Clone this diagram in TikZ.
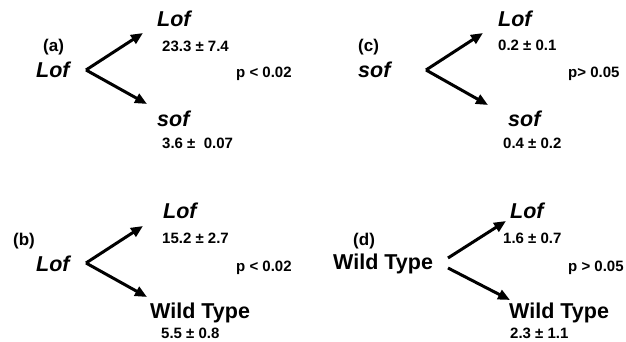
\documentclass[tikz,border=0pt]{standalone}
\usepackage{fontspec}
\setmainfont{Liberation Sans}
\usetikzlibrary{arrows.meta}
\tikzset{
  lbl/.style={anchor=base west, inner sep=0pt, font=\bfseries\fontsize{21.5}{21.5}\selectfont},
  glbl/.style={lbl, font=\bfseries\itshape\fontsize{21.5}{21.5}\selectfont},
  tag/.style={anchor=base west, inner sep=0pt, font=\bfseries\fontsize{17}{17}\selectfont},
  num/.style={anchor=base west, inner sep=0pt, font=\bfseries\fontsize{15}{15}\selectfont},
  cross/.style={line width=3pt, -{Triangle[length=12pt,width=10pt]}}
}
\begin{document}
\begin{tikzpicture}[x=1pt,y=-1pt]
\useasboundingbox (0,0) rectangle (626,342);

% (a) Lof x Lof / sof
\node[tag]  (ta)  at (43,52)   {(a)};
\node[glbl] (a0)  at (36,78)   {Lof};
\node[glbl] (a1)  at (157,27)  {Lof};
\node[num]  (a1n) at (162,52)  {23.3 \char"00B1{} 7.4};
\node[num]  (ap)  at (236,78)  {p < 0.02};
\node[glbl] (a2)  at (157,127) {sof};
\node[num]  (a2n) at (162,148) {3.6 \char"00B1{}\ \ 0.07};
\coordinate (as) at (86,70);
\coordinate (au) at (143,33);
\coordinate (ad) at (147,104);
\draw[cross] (as) -- (au);
\draw[cross] (as) -- (ad);

% (c) sof x Lof / sof
\node[tag]  (tc)  at (358,52)  {(c)};
\node[glbl] (c0)  at (358,78)  {sof};
\node[glbl] (c1)  at (498,27)  {Lof};
\node[num]  (c1n) at (498,51)  {0.2 \char"00B1{} 0.1};
\node[num]  (cp)  at (568,78)  {p> 0.05};
\node[glbl] (c2)  at (508,127) {sof};
\node[num]  (c2n) at (503,148) {0.4 \char"00B1{} 0.2};
\coordinate (cs) at (426,70);
\coordinate (cu) at (483,33);
\coordinate (cd) at (488,105);
\draw[cross] (cs) -- (cu);
\draw[cross] (cs) -- (cd);

% (b) Lof x Lof / Wild Type
\node[tag]  (tb)  at (13,245)  {(b)};
\node[glbl] (b0)  at (36,271)  {Lof};
\node[glbl] (b1)  at (163,218) {Lof};
\node[num]  (b1n) at (162,243) {15.2 \char"00B1{} 2.7};
\node[num]  (bp)  at (236,271) {p < 0.02};
\node[lbl]  (b2)  at (150,318) {Wild Type};
\node[num]  (b2n) at (161,338) {5.5 \char"00B1{} 0.8};
\coordinate (bs) at (86,263);
\coordinate (bu) at (143,226);
\coordinate (bd) at (147,297);
\draw[cross] (bs) -- (bu);
\draw[cross] (bs) -- (bd);

% (d) Wild Type x Lof / Wild Type
\node[tag]  (td)  at (353,245) {(d)};
\node[lbl]  (d0)  at (333,269) {Wild Type};
\node[glbl] (d1)  at (510,218) {Lof};
\node[num]  (d1n) at (503,243) {1.6 \char"00B1{} 0.7};
\node[num]  (dp)  at (568,271) {p > 0.05};
\node[lbl]  (d2)  at (509,318) {Wild Type};
\node[num]  (d2n) at (510,338) {2.3 \char"00B1{} 1.1};
\coordinate (ds1) at (448,258);
\coordinate (du)  at (506,221);
\coordinate (ds2) at (448,268);
\coordinate (dd)  at (510,300);
\draw[cross] (ds1) -- (du);
\draw[cross] (ds2) -- (dd);
\end{tikzpicture}
\end{document}
